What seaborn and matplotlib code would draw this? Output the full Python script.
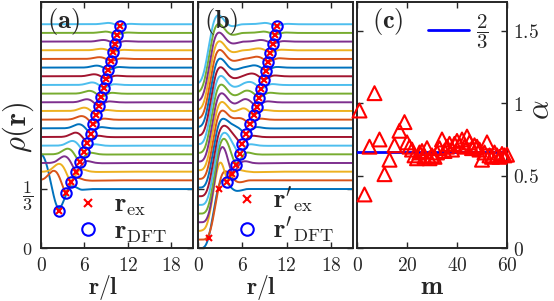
import numpy as np
import pandas as pd
import matplotlib
matplotlib.use('Agg')
import matplotlib.pyplot as plt
import seaborn as sns
from matplotlib.lines import Line2D

sns.set_style('ticks')
plt.rcParams['mathtext.fontset'] = 'cm'
plt.rcParams['axes.linewidth'] = 1.4

# MATLAB default colour order, bottom profile first
LINE_COLORS = ['#0072BD', '#D95319', '#EDB120', '#7E2F8E', '#77AC30', '#4DBEEE', '#A2142F']

N_CURVES = 20
BULK = 1 / 3        # bulk density of the bottom profile
OFFSET = 0.049      # vertical shift between neighbouring profiles

# (a) edge minima, bottom profile first
r_ex_a = [2.46, 3.41, 4.13, 4.87, 5.32, 5.96, 6.41, 6.86, 7.23, 7.60,
          7.96, 8.32, 8.69, 8.96, 9.32, 9.69, 9.96, 10.23, 10.50, 10.87]
rho_ex_a = [0.211, 0.309, 0.371, 0.429, 0.486, 0.542, 0.594, 0.645, 0.698, 0.749,
            0.800, 0.851, 0.902, 0.955, 1.004, 1.055, 1.106, 1.154, 1.205, 1.254]

# (b) edge minima, bottom profile first (lowest two have no DFT point)
r_ex_b = [1.55, 2.91, 3.98, 4.59, 5.14, 5.64, 5.96, 6.50, 7.00, 7.55,
          7.96, 8.28, 8.59, 8.91, 9.23, 9.55, 9.82, 10.14, 10.46, 10.64]
rho_ex_b = [0.058, 0.333, 0.374, 0.418, 0.469, 0.531, 0.588, 0.644, 0.699, 0.749,
            0.798, 0.849, 0.898, 0.949, 1.002, 1.051, 1.103, 1.154, 1.205, 1.254]
n_no_dft_b = 2

# edge ripple around each minimum, in units of its depth
edge_dr = [-7.0, -3.6, -2.9, -2.3, -1.7, -1.2, -0.7, -0.3, 0.0, 0.35, 0.8, 1.3, 1.9, 2.6, 3.5, 7.0]
edge_shape = [0.0, 0.0, 0.12, 0.5, 0.8, 0.65, 0.05, -0.7, -1.0, -0.7, -0.1, 0.25, 0.18, 0.02, -0.03, 0.0]

# bottom profile of (a) near the centre
core_a_r = [0.0, 0.5, 1.0, 1.5, 2.0, 2.46, 3.0, 3.5, 4.1, 4.8, 5.5, 7.0, 21.0]
core_a_rho = [0.537, 0.51, 0.44, 0.34, 0.25, 0.211, 0.25, 0.31, 0.352, 0.345, 0.328, 0.333, 0.333]

# hole at the centre in (b), relative to each profile's bulk level
hole_r = [0.0, 0.4, 0.8, 1.2, 1.6, 2.0, 2.4, 2.8, 3.3, 3.8, 4.4, 5.0, 5.8, 21.0]
hole_rho = [-0.335, -0.32, -0.27, -0.18, -0.08, 0.01, 0.05, 0.055, 0.035, 0.005, -0.012, -0.01, 0.0, 0.0]
hole_shift_b = [0.7, 1.0, 0.9, 0.85, 0.8, 0.75, 0.7, 0.65, 0.6, 0.55,
                0.5, 0.45, 0.4, 0.35, 0.3, 0.25, 0.2, 0.15, 0.1, 0.05]

# (c) fitted exponent per angular momentum
m_vals = [1, 3, 5, 7, 9, 11, 13, 15, 17, 19] + list(range(20, 61))
alpha_vals = [0.95, 0.37, 0.70, 1.07, 0.75, 0.51, 0.61, 0.71, 0.81, 0.87,
              0.73, 0.70, 0.68, 0.64, 0.62, 0.66, 0.67, 0.63, 0.69, 0.62,
              0.64, 0.63, 0.66, 0.69, 0.75, 0.67, 0.70, 0.72, 0.68, 0.72,
              0.74, 0.71, 0.75, 0.70, 0.77, 0.73, 0.69, 0.71, 0.70, 0.68,
              0.61, 0.66, 0.73, 0.64, 0.63, 0.66, 0.64, 0.63, 0.65, 0.64,
              0.645]
alpha_ref = 2 / 3

R = np.linspace(0, 21, 600)


def smooth(y, sigma_pts=6):
    k = np.arange(-3 * sigma_pts, 3 * sigma_pts + 1)
    w = np.exp(-0.5 * (k / sigma_pts) ** 2)
    w /= w.sum()
    pad = np.pad(y, len(k) // 2, mode='edge')
    return np.convolve(pad, w, mode='valid')


def build_profiles(panel):
    rows = []
    for k in range(N_CURVES):
        base = BULK + k * OFFSET
        if panel == 'a':
            if k == 0:
                rho = np.interp(R, core_a_r, core_a_rho)
            else:
                depth = base - rho_ex_a[k]
                rho = base + depth * np.interp(R - r_ex_a[k], edge_dr, edge_shape)
        else:
            hole = np.interp(R - hole_shift_b[k], hole_r, hole_rho, left=hole_rho[0])
            rho = base + hole
            if k >= n_no_dft_b:
                h_at = np.interp(r_ex_b[k] - hole_shift_b[k], hole_r, hole_rho)
                depth = base + h_at - rho_ex_b[k]
                rho = rho + depth * np.interp(R - r_ex_b[k], edge_dr, edge_shape)
        rho = smooth(rho)
        rows.append(pd.DataFrame({'r': R, 'rho': rho, 'k': k}))
    return pd.concat(rows, ignore_index=True)


def style_profile_axis(ax, label):
    ax.set_xlim(0, 21)
    ax.set_ylim(0, 1.39)
    ax.set_xticks([0, 6, 12, 18])
    ax.set_xticklabels([r'$\mathbf{0}$', r'$\mathbf{6}$', r'$\mathbf{12}$', r'$\mathbf{18}$'], fontsize=14)
    ax.set_yticks([0, 1 / 3])
    ax.tick_params(direction='in', top=True, right=True, length=4, width=1, pad=6)
    ax.set_xlabel('')
    ax.text(0.41, -0.16, r'$\mathbf{r/l}$', transform=ax.transAxes, fontsize=17,
            ha='center', va='center')
    ax.text(0.04, 0.985, label, transform=ax.transAxes, fontsize=19, va='top', ha='left')


fig = plt.figure(figsize=(5.54, 3.01), dpi=100)
ax_a = fig.add_axes([41 / 554, 53 / 301, 152 / 554, 246 / 301])
ax_b = fig.add_axes([198 / 554, 53 / 301, 155 / 554, 246 / 301])
ax_c = fig.add_axes([357 / 554, 53 / 301, 150 / 554, 246 / 301])

palette = [LINE_COLORS[k % 7] for k in range(N_CURVES)]

for ax, panel, r_ex, rho_ex, label, leg_ex, leg_dft, leg_x in [
        (ax_a, 'a', r_ex_a, rho_ex_a, r'$\mathbf{(a)}$', r'$\mathbf{r}_{\rm ex}$', r'$\mathbf{r}_{\rm DFT}$', 0.15),
        (ax_b, 'b', r_ex_b, rho_ex_b, r'$\mathbf{(b)}$', r"$\mathbf{r}'_{\rm ex}$", r"$\mathbf{r}'_{\rm DFT}$", 0.16)]:
    df = build_profiles(panel)
    sns.lineplot(data=df, x='r', y='rho', hue='k', palette=palette, lw=1.4,
                 legend=False, ax=ax, estimator=None, sort=False)
    start = 0 if panel == 'a' else n_no_dft_b
    ax.plot(r_ex[start:], rho_ex[start:], 'o', ms=7.5, mfc='none', mec='blue', mew=1.5, zorder=5)
    ax.plot(r_ex, rho_ex, 'x', ms=5, mec='red', mew=1.5, zorder=6)
    handles = [Line2D([], [], ls='none', marker='x', ms=6, mec='red', mew=1.5),
               Line2D([], [], ls='none', marker='o', ms=9, mfc='none', mec='blue', mew=1.5)]
    ax.legend(handles, [leg_ex, leg_dft], loc='lower left', bbox_to_anchor=(leg_x, -0.03),
              frameon=False, fontsize=19, handlelength=1.0, handletextpad=0.5, labelspacing=0.0,
              borderaxespad=0.0)
    style_profile_axis(ax, label)
    ax.set_ylabel('')

ax_a.set_yticklabels([r'$\mathbf{0}$', r'$\dfrac{\mathbf{1}}{\mathbf{3}}$'], fontsize=13)
ax_a.text(-0.15, 0.49, r'$\rho(\mathbf{r})$', transform=ax_a.transAxes, fontsize=22,
          rotation=90, ha='center', va='center')
ax_b.set_yticklabels([])

# (c)
df_c = pd.DataFrame({'m': m_vals, 'alpha': alpha_vals})
ax_c.axhline(alpha_ref, color='blue', lw=2, zorder=3)
sns.scatterplot(data=df_c, x='m', y='alpha', marker='^', s=100, facecolor='none',
                edgecolor='red', linewidth=1.5, zorder=4, clip_on=False, ax=ax_c)
ax_c.set_xlim(0, 60)
ax_c.set_ylim(0, 1.7)
ax_c.set_xticks([0, 20, 40, 60])
ax_c.set_xticklabels([r'$\mathbf{0}$', r'$\mathbf{20}$', r'$\mathbf{40}$', r'$\mathbf{60}$'], fontsize=14)
ax_c.set_yticks([0, 0.5, 1, 1.5])
ax_c.set_yticklabels([r'$\mathbf{0}$', r'$\mathbf{0.5}$', r'$\mathbf{1}$', r'$\mathbf{1.5}$'], fontsize=14)
ax_c.yaxis.tick_right()
ax_c.tick_params(direction='in', top=True, left=True, right=True, length=4, width=1, pad=6)
ax_c.tick_params(axis='y', pad=4)
ax_c.set_ylabel('')
ax_c.set_xlabel('')
ax_c.text(0.5, -0.16, r'$\mathbf{m}$', transform=ax_c.transAxes, fontsize=19,
          ha='center', va='center')
ax_c.text(1.225, 0.56, r'$\alpha$', transform=ax_c.transAxes, fontsize=22,
          rotation=90, ha='center', va='center')
ax_c.text(0.1, 0.985, r'$\mathbf{(c)}$', transform=ax_c.transAxes, fontsize=19, va='top', ha='left')
ax_c.legend([Line2D([], [], color='blue', lw=2)], [r'$\dfrac{\mathbf{2}}{\mathbf{3}}$'],
            loc='upper right', bbox_to_anchor=(0.93, 0.99), frameon=False, fontsize=15,
            handlelength=2.0, handletextpad=0.3, borderaxespad=0.0)

fig.savefig('out.png', dpi=100)
